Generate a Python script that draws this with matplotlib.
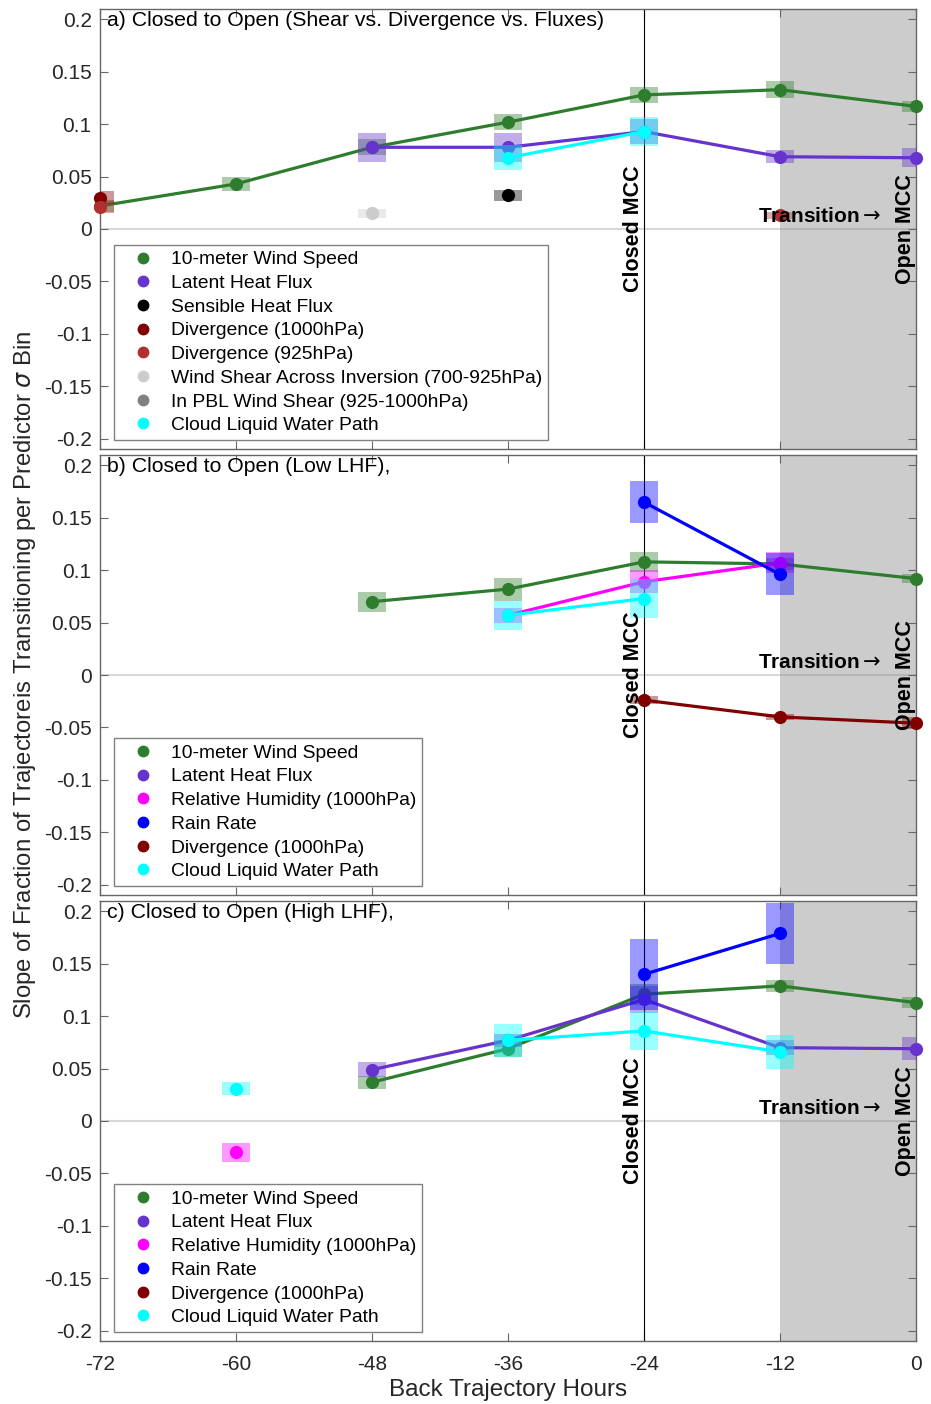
import numpy as np
import matplotlib
matplotlib.use("Agg")
import matplotlib.pyplot as plt
from matplotlib.patches import Rectangle
from matplotlib.lines import Line2D

plt.rcParams["font.family"] = ["Liberation Sans", "DejaVu Sans"]
plt.rcParams["mathtext.fontset"] = "dejavusans"

nan = np.nan

# Back-trajectory hours (x axis)
hours = [-72, -60, -48, -36, -24, -12, 0]
xtick_labels = ["-72", "-60", "-48", "-36", "-24", "-12", "0"]
yticks = [-0.2, -0.15, -0.1, -0.05, 0, 0.05, 0.1, 0.15, 0.2]
ytick_labels = ["-0.2", "-0.15", "-0.1", "-0.05", "0", "0.05", "0.1", "0.15", "0.2"]

# ---- Panel a: shear vs. divergence vs. fluxes ----
a_wind = [0.022, 0.043, 0.078, 0.102, 0.128, 0.133, 0.117]
a_wind_err = [0.006, 0.007, 0.0075, 0.0075, 0.008, 0.008, 0.005]
a_lhf = [nan, nan, 0.078, 0.078, 0.093, 0.069, 0.068]
a_lhf_err = [nan, nan, 0.014, 0.014, 0.012, 0.006, 0.009]
a_shf = [nan, nan, nan, 0.032, nan, nan, nan]
a_shf_err = [nan, nan, nan, 0.005, nan, nan, nan]
a_div1000 = [0.030, nan, nan, nan, nan, nan, nan]
a_div1000_err = [0.006, nan, nan, nan, nan, nan, nan]
a_div925 = [0.021, nan, nan, nan, nan, 0.013, nan]
a_div925_err = [0.006, nan, nan, nan, nan, 0.003, nan]
a_shear_inv = [nan, nan, 0.015, nan, nan, nan, nan]
a_shear_inv_err = [nan, nan, 0.0045, nan, nan, nan, nan]
a_shear_pbl = [nan, nan, nan, nan, nan, nan, nan]
a_shear_pbl_err = [nan, nan, nan, nan, nan, nan, nan]
a_clwp = [nan, nan, nan, 0.068, 0.093, nan, nan]
a_clwp_err = [nan, nan, nan, 0.012, 0.014, nan, nan]

# ---- Panel b: low latent heat flux ----
b_wind = [nan, nan, 0.070, 0.082, 0.108, 0.106, 0.092]
b_wind_err = [nan, nan, 0.0095, 0.011, 0.0095, 0.006, 0.004]
b_lhf = [nan, nan, nan, nan, nan, nan, nan]
b_lhf_err = [nan, nan, nan, nan, nan, nan, nan]
b_rh = [nan, nan, nan, 0.057, 0.089, 0.107, nan]
b_rh_err = [nan, nan, nan, 0.007, 0.011, 0.010, nan]
b_rain = [nan, nan, nan, nan, 0.165, 0.096, nan]
b_rain_err = [nan, nan, nan, nan, 0.020, 0.020, nan]
b_div1000 = [nan, nan, nan, nan, -0.024, -0.040, -0.046]
b_div1000_err = [nan, nan, nan, nan, 0.004, 0.003, 0.006]
b_clwp = [nan, nan, nan, 0.057, 0.073, nan, nan]
b_clwp_err = [nan, nan, nan, 0.014, 0.019, nan, nan]

# ---- Panel c: high latent heat flux ----
c_wind = [nan, nan, 0.037, 0.069, 0.121, 0.129, 0.113]
c_wind_err = [nan, nan, 0.006, 0.008, 0.010, 0.006, 0.005]
c_lhf = [nan, nan, 0.049, 0.077, 0.116, 0.070, 0.069]
c_lhf_err = [nan, nan, 0.007, 0.006, 0.013, 0.007, 0.011]
c_rh = [nan, -0.030, nan, nan, nan, nan, nan]
c_rh_err = [nan, 0.009, nan, nan, nan, nan, nan]
c_rain = [nan, nan, nan, nan, 0.140, 0.179, nan]
c_rain_err = [nan, nan, nan, nan, 0.034, 0.029, nan]
c_div1000 = [nan, nan, nan, nan, nan, nan, nan]
c_div1000_err = [nan, nan, nan, nan, nan, nan, nan]
c_clwp = [nan, 0.031, nan, 0.077, 0.086, 0.066, nan]
c_clwp_err = [nan, 0.006, nan, 0.016, 0.018, 0.016, nan]

# Predictor names and colours
lbl_wind = "10-meter Wind Speed"
lbl_lhf = "Latent Heat Flux"
lbl_shf = "Sensible Heat Flux"
lbl_div1000 = "Divergence (1000hPa)"
lbl_div925 = "Divergence (925hPa)"
lbl_shear_inv = "Wind Shear Across Inversion (700-925hPa)"
lbl_shear_pbl = "In PBL Wind Shear (925-1000hPa)"
lbl_clwp = "Cloud Liquid Water Path"
lbl_rh = "Relative Humidity (1000hPa)"
lbl_rain = "Rain Rate"

col_wind = "#2e7d2e"
col_lhf = "#6633cc"
col_shf = "#000000"
col_div1000 = "#800000"
col_div925 = "#b22f2f"
col_shear_inv = "#cccccc"
col_shear_pbl = "#808080"
col_clwp = "#00ffff"
col_rh = "#ff00ff"
col_rain = "#0000ff"

panels = [
    ("a) Closed to Open (Shear vs. Divergence vs. Fluxes)", [
        (lbl_wind, col_wind, a_wind, a_wind_err),
        (lbl_lhf, col_lhf, a_lhf, a_lhf_err),
        (lbl_shf, col_shf, a_shf, a_shf_err),
        (lbl_div1000, col_div1000, a_div1000, a_div1000_err),
        (lbl_div925, col_div925, a_div925, a_div925_err),
        (lbl_shear_inv, col_shear_inv, a_shear_inv, a_shear_inv_err),
        (lbl_shear_pbl, col_shear_pbl, a_shear_pbl, a_shear_pbl_err),
        (lbl_clwp, col_clwp, a_clwp, a_clwp_err),
    ]),
    ("b) Closed to Open (Low LHF),", [
        (lbl_wind, col_wind, b_wind, b_wind_err),
        (lbl_lhf, col_lhf, b_lhf, b_lhf_err),
        (lbl_rh, col_rh, b_rh, b_rh_err),
        (lbl_rain, col_rain, b_rain, b_rain_err),
        (lbl_div1000, col_div1000, b_div1000, b_div1000_err),
        (lbl_clwp, col_clwp, b_clwp, b_clwp_err),
    ]),
    ("c) Closed to Open (High LHF),", [
        (lbl_wind, col_wind, c_wind, c_wind_err),
        (lbl_lhf, col_lhf, c_lhf, c_lhf_err),
        (lbl_rh, col_rh, c_rh, c_rh_err),
        (lbl_rain, col_rain, c_rain, c_rain_err),
        (lbl_div1000, col_div1000, c_div1000, c_div1000_err),
        (lbl_clwp, col_clwp, c_clwp, c_clwp_err),
    ]),
]

W, H = 931, 1404
fig = plt.figure(figsize=(W / 100, H / 100), dpi=100)

ax_left = 100 / W
ax_width = 816 / W
ax_height = 440 / H
ax_tops = [9, 455, 901]

box_width = 2.5
axis_color = "#666666"
text_color = "#262626"

for i, (title, series) in enumerate(panels):
    bottom = 1 - (ax_tops[i] + 440) / H
    ax = fig.add_axes([ax_left, bottom, ax_width, ax_height])
    ax.set_xlim(-72, 0)
    ax.set_ylim(-0.21, 0.21)

    # transition period shading, zero line and closed-MCC marker line
    ax.axvspan(-12, 0, facecolor="#cccccc", edgecolor="none", zorder=0)
    ax.axhline(0, color="0.5", alpha=0.3, lw=1.5, zorder=1)
    ax.axvline(-24, color="black", lw=0.8, zorder=2)

    handles = []
    for label, color, vals, errs in series:
        y = np.array(vals, dtype=float)
        e = np.array(errs, dtype=float)
        ax.plot(hours, y, "-o", color=color, lw=2.3, ms=9.5, mec=color,
                mew=0, clip_on=False, zorder=3)
        for h, v, er in zip(hours, y, e):
            if np.isfinite(v):
                ax.add_patch(Rectangle((h - box_width / 2, v - er), box_width, 2 * er,
                                       facecolor=color, edgecolor="none", alpha=0.4,
                                       zorder=3))
        handles.append(Line2D([], [], ls="none", marker="o", color=color,
                              mec=color, ms=7.5))

    ax.text(-71.4, 0.199, title, fontsize=15.3, ha="left", va="center",
            color="black", zorder=6)
    ax.text(-24, 0, "Closed MCC", rotation=90, ha="right", va="center",
            fontsize=15.5, fontweight="bold", zorder=6)
    ax.text(0, 0, "Open MCC", rotation=90, ha="right", va="center",
            fontsize=15.5, fontweight="bold", zorder=6)
    ax.text(-13.95, 0.012, r"Transition$\rightarrow$", ha="left", va="center",
            fontsize=15, fontweight="bold", zorder=6)

    ax.set_xticks(hours)
    ax.set_xticklabels(xtick_labels if i == 2 else [""] * len(hours))
    ax.set_yticks(yticks)
    ax.set_yticklabels(ytick_labels)
    ax.tick_params(direction="in", top=True, right=True, length=6, width=0.8,
                   color=axis_color, labelcolor=text_color, labelsize=15)
    ax.tick_params(axis="x", pad=10)
    ax.tick_params(axis="y", pad=6)
    for sp in ax.spines.values():
        sp.set_color(axis_color)
        sp.set_linewidth(1.0)

    leg = ax.legend(handles, [s[0] for s in series], loc="lower left",
                    bbox_to_anchor=(14 / 816, 9 / 440), borderaxespad=0,
                    fontsize=13.9, frameon=True, fancybox=False, framealpha=1,
                    edgecolor="#808080", handlelength=2.4, handletextpad=0.25,
                    labelspacing=0.32, borderpad=0.3)
    leg.get_frame().set_linewidth(1.0)
    leg.set_zorder(7)

fig.text(25 / W, 1 - 675 / H,
         r"Slope of Fraction of Trajectoreis Transitioning per Predictor $\sigma$ Bin",
         rotation=90, ha="center", va="center", fontsize=17.2, color=text_color)
fig.text(508 / W, 1 - 1390 / H, "Back Trajectory Hours", ha="center", va="center",
         fontsize=17.5, color=text_color)

fig.savefig("out.png", dpi=100)
